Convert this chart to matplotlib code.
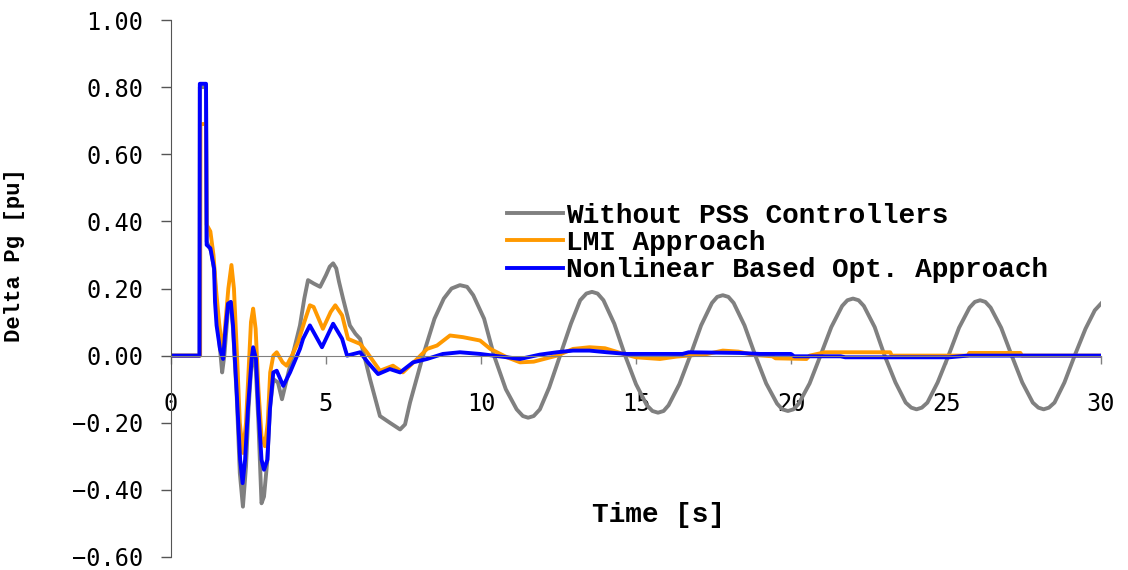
import matplotlib
matplotlib.use("Agg")
import matplotlib.pyplot as plt

# values (time in s, Delta Pg in pu)
t_nopss = [0, 0.92, 0.93, 1.13, 1.15, 1.3, 1.4, 1.5, 1.65, 1.72, 1.85, 1.93, 2.0,
           2.12, 2.22, 2.32, 2.42, 2.5, 2.6, 2.65, 2.74, 2.82, 2.92, 3.0, 3.1, 3.2,
           3.3, 3.45, 3.58, 3.84, 4.16, 4.3, 4.42, 4.6, 4.81, 5.0, 5.12, 5.23, 5.33,
           5.42, 5.55, 5.77, 5.95, 6.1, 6.42, 6.74, 7.06, 7.39, 7.55, 7.71, 7.92,
           8.13, 8.5, 8.8, 9.05, 9.32, 9.55, 9.75, 10.1, 10.42, 10.8, 11.15, 11.35,
           11.52, 11.7, 11.9, 12.2, 12.55, 12.9, 13.2, 13.4, 13.58, 13.76, 13.95,
           14.3, 14.65, 15.0, 15.35, 15.53, 15.71, 15.89, 16.05, 16.4, 16.75, 17.1,
           17.45, 17.62, 17.8, 17.98, 18.15, 18.5, 18.85, 19.2, 19.55, 19.72, 19.9,
           20.08, 20.25, 20.6, 20.95, 21.3, 21.65, 21.82, 22.0, 22.18, 22.35, 22.7,
           23.02, 23.37, 23.7, 23.88, 24.05, 24.22, 24.4, 24.73, 25.08, 25.42,
           25.76, 25.93, 26.1, 26.27, 26.44, 26.78, 27.12, 27.46, 27.8, 27.98,
           28.15, 28.32, 28.5, 28.82, 29.15, 29.5, 29.8, 30.0]
p_nopss = [0, 0, 0.80, 0.80, 0.34, 0.31, 0.25, 0.10, -0.05, 0.0, 0.15, 0.16, 0.08,
           -0.12, -0.35, -0.45, -0.33, -0.16, -0.02, 0.02, -0.05, -0.20, -0.44, -0.42,
           -0.32, -0.15, -0.07, -0.08, -0.13, -0.03, 0.09, 0.17, 0.225, 0.215, 0.205,
           0.24, 0.265, 0.275, 0.26, 0.22, 0.17, 0.09, 0.065, 0.05, -0.07, -0.18,
           -0.20, -0.22, -0.205, -0.14, -0.07, 0.0, 0.11, 0.17, 0.2, 0.21, 0.205,
           0.18, 0.11, 0.0, -0.10, -0.16, -0.18, -0.185, -0.18, -0.16, -0.095, 0.0,
           0.095, 0.165, 0.185, 0.19, 0.185, 0.165, 0.095, 0.0, -0.085, -0.148,
           -0.165, -0.17, -0.165, -0.148, -0.085, 0.0, 0.09, 0.157, 0.175, 0.18,
           0.175, 0.157, 0.09, 0.0, -0.083, -0.143, -0.16, -0.165, -0.16, -0.143,
           -0.083, 0.0, 0.085, 0.148, 0.165, 0.17, 0.165, 0.148, 0.085, 0.0, -0.08,
           -0.14, -0.155, -0.16, -0.155, -0.14, -0.08, 0.0, 0.083, 0.143, 0.16,
           0.165, 0.16, 0.143, 0.083, 0.0, -0.08, -0.14, -0.155, -0.16, -0.155,
           -0.14, -0.08, 0.0, 0.08, 0.135, 0.155]

t_lmi = [0, 0.94, 0.95, 1.13, 1.15, 1.27, 1.37, 1.45, 1.55, 1.65, 1.72, 1.85, 1.95,
         2.03, 2.13, 2.22, 2.32, 2.42, 2.5, 2.58, 2.65, 2.73, 2.82, 2.92, 3.03, 3.12,
         3.2, 3.3, 3.41, 3.6, 3.73, 3.9, 4.1, 4.3, 4.48, 4.6, 4.9, 5.15, 5.3, 5.52,
         5.71, 6.1, 6.32, 6.74, 7.16, 7.48, 7.94, 8.26, 8.58, 9.0, 9.42, 9.97, 10.3,
         10.84, 11.26, 11.7, 12.45, 12.97, 13.5, 14.0, 14.6, 15.0, 15.77, 16.3, 17.3,
         17.8, 18.3, 18.8, 19.4, 19.5, 20.5, 20.6, 21.1, 23.2, 23.25, 25.7, 25.75,
         27.4, 27.45, 30.0]
p_lmi = [0, 0, 0.69, 0.69, 0.39, 0.37, 0.30, 0.20, 0.10, 0.02, 0.06, 0.20, 0.27,
         0.20, 0.0, -0.20, -0.29, -0.20, -0.05, 0.10, 0.14, 0.08, -0.10, -0.24, -0.27,
         -0.20, -0.05, 0.0, 0.01, -0.02, -0.03, 0.0, 0.04, 0.10, 0.15, 0.145, 0.08,
         0.13, 0.15, 0.12, 0.05, 0.035, 0.01, -0.045, -0.03, -0.05, -0.01, 0.02,
         0.03, 0.06, 0.055, 0.045, 0.02, -0.005, -0.02, -0.018, 0.0, 0.02, 0.025,
         0.022, 0.005, -0.005, -0.01, -0.003, 0.005, 0.015, 0.012, 0.002, -0.002,
         -0.008, -0.01, 0.0, 0.01, 0.01, 0.0, 0.0, 0.008, 0.008, 0.0, 0.0]

t_nl = [0, 0.92, 0.93, 1.13, 1.15, 1.27, 1.33, 1.39, 1.42, 1.47, 1.58, 1.68, 1.74,
        1.84, 1.93, 2.0, 2.12, 2.23, 2.31, 2.39, 2.48, 2.6, 2.65, 2.74, 2.82, 2.92,
        3.0, 3.11, 3.19, 3.3, 3.41, 3.62, 3.84, 4.16, 4.26, 4.48, 4.87, 5.23, 5.52,
        5.68, 6.1, 6.35, 6.68, 7.06, 7.39, 7.81, 8.26, 8.77, 9.32, 9.97, 10.84,
        11.26, 11.9, 12.45, 12.97, 13.5, 14.06, 14.7, 16.5, 16.7, 18.35, 19.0, 20.0,
        20.1, 21.6, 21.75, 25.1, 25.7, 30.0]
p_nl = [0, 0, 0.81, 0.81, 0.33, 0.32, 0.29, 0.26, 0.16, 0.09, 0.02, -0.01, 0.06,
        0.155, 0.16, 0.09, -0.11, -0.31, -0.38, -0.31, -0.16, -0.01, 0.025, -0.01,
        -0.16, -0.31, -0.34, -0.31, -0.16, -0.05, -0.045, -0.09, -0.05, 0.02, 0.05,
        0.09, 0.025, 0.095, 0.05, 0.0, 0.01, -0.02, -0.055, -0.04, -0.05, -0.02,
        -0.01, 0.005, 0.01, 0.005, -0.005, -0.01, 0.003, 0.01, 0.015, 0.015, 0.01,
        0.005, 0.005, 0.01, 0.008, 0.005, 0.005, -0.002, -0.002, -0.005, -0.005,
        0.0, 0.0]

series_labels = ["Without PSS Controllers", "LMI Approach",
                 "Nonlinear Based Opt. Approach"]
x_ticks = [0, 5, 10, 15, 20, 25, 30]
y_ticks = [-0.6, -0.4, -0.2, 0.0, 0.2, 0.4, 0.6, 0.8, 1.0]

mono = "DejaVu Sans Mono"
bold_mono = "Liberation Mono"

fig = plt.figure(figsize=(11.28, 5.70), dpi=100)
ax = fig.add_axes([171 / 1128, 13 / 570, 930 / 1128, 537 / 570])

ax.plot(t_nopss, p_nopss, color="#808080", lw=2.8, label=series_labels[0])
ax.plot(t_lmi, p_lmi, color="#FF9900", lw=2.8, label=series_labels[1])
ax.plot(t_nl, p_nl, color="#0000FF", lw=2.8, label=series_labels[2])

ax.set_xlim(0, 30)
ax.set_ylim(-0.6, 1.0)

ax.spines["top"].set_visible(False)
ax.spines["right"].set_visible(False)
ax.spines["bottom"].set_position(("data", 0))
ax.spines["bottom"].set_color("#808080")
ax.spines["left"].set_color("#555555")

ax.set_xticks(x_ticks)
ax.set_xticklabels([str(v) for v in x_ticks], family=mono, fontsize=17)
ax.set_yticks(y_ticks)
ax.set_yticklabels([f"{v:.2f}".replace("-", "\u2212") for v in y_ticks],
                   family=mono, fontsize=17)
ax.tick_params(axis="x", direction="out", length=6, width=1, color="#808080",
               pad=20)
ax.tick_params(axis="y", direction="out", length=7, width=1, color="#555555",
               pad=13)

ax.set_ylabel("Delta Pg [pu]", family=bold_mono, fontweight="bold", fontsize=16)
ax.yaxis.set_label_coords(-0.157, 0.562)
ax.set_xlabel("Time [s]", family=bold_mono, fontweight="bold", fontsize=20)
ax.xaxis.set_label_coords(0.524, 0.102)

leg = ax.legend(loc="center left", bbox_to_anchor=(507 / 1128, 1 - 243 / 570),
                bbox_transform=fig.transFigure, frameon=False,
                prop={"family": bold_mono, "weight": "bold", "size": 20},
                handlelength=2.0, handletextpad=0.12, labelspacing=0.05,
                borderpad=0, borderaxespad=0)

fig.savefig("out.png", dpi=100)
